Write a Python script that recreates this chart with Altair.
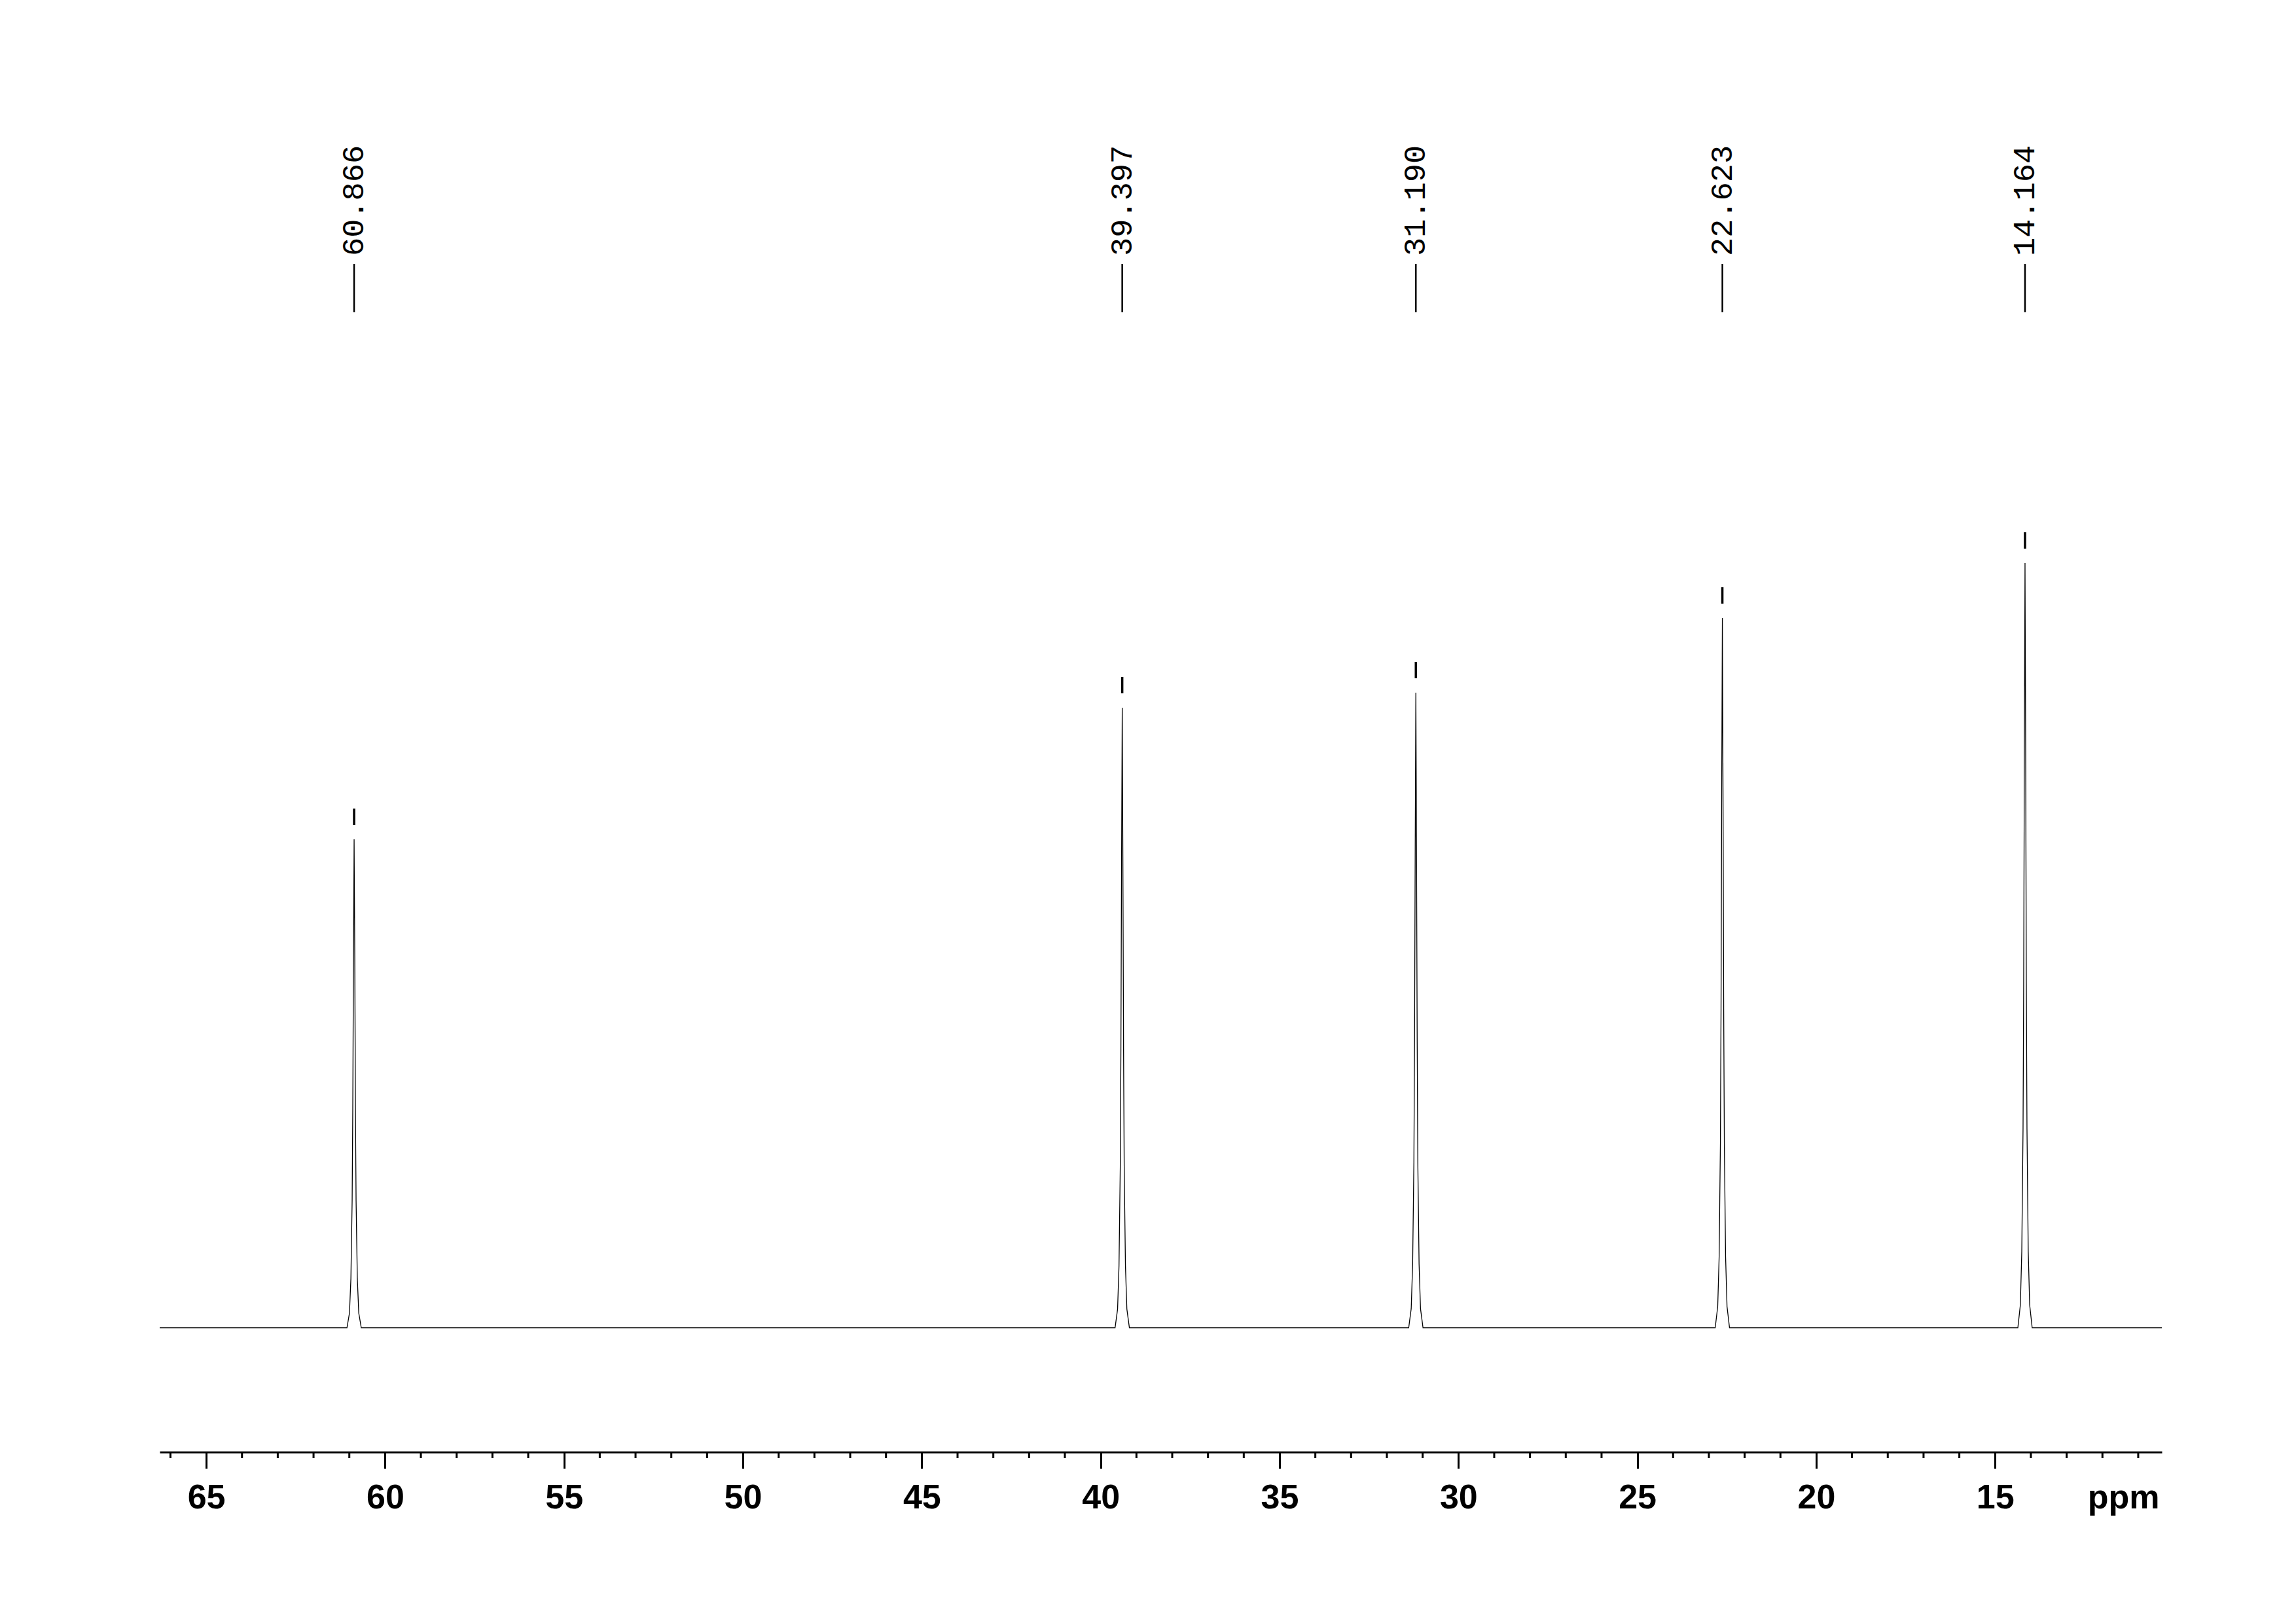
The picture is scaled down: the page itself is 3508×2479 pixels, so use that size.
import altair as alt
import pandas as pd

# ---- data ----
PEAK_PPM = [60.866, 39.397, 31.190, 22.623, 14.164]
PEAK_LABELS = ["60.866", "39.397", "31.190", "22.623", "14.164"]
PEAK_HEIGHT = [746, 947, 970, 1084, 1168]          # arbitrary intensity units

LINE_OFFSET_PPM = [-0.20, -0.13, -0.09, -0.055, -0.037, -0.018, 0.0,
                   0.018, 0.037, 0.055, 0.09, 0.13, 0.20]
LINE_FRACTION = [0.0, 0.03, 0.10, 0.26, 0.45, 0.76, 1.0,
                 0.76, 0.45, 0.26, 0.10, 0.03, 0.0]

PPM_RANGE = [10.34, 66.30]
MAJOR_TICKS = [65, 60, 55, 50, 45, 40, 35, 30, 25, 20, 15]
MINOR_TICKS = [v for v in range(11, 67) if v % 5 != 0]

# ---- tables ----
rows = [{"ppm": PPM_RANGE[1], "intensity": 0.0}, {"ppm": PPM_RANGE[0], "intensity": 0.0}]
for p, h in zip(PEAK_PPM, PEAK_HEIGHT):
    for o, f in zip(LINE_OFFSET_PPM, LINE_FRACTION):
        rows.append({"ppm": p + o, "intensity": h * f})
spec = pd.DataFrame(rows).sort_values("ppm", ascending=False)

peaks = pd.DataFrame({"ppm": PEAK_PPM, "label": PEAK_LABELS, "height": PEAK_HEIGHT})
minor = pd.DataFrame({"ppm": MINOR_TICKS})

W, H = 3059, 2018
AXIS_FONT = "Liberation Sans"
LABEL_FONT = "Liberation Mono"


def x_enc():
    return alt.X(
        "ppm:Q",
        scale=alt.Scale(domain=PPM_RANGE, reverse=True, nice=False, zero=False),
        axis=alt.Axis(
            values=MAJOR_TICKS, format="d", grid=False,
            tickSize=25, tickWidth=3, tickColor="black",
            domainWidth=3, domainColor="black",
            labelFont=AXIS_FONT, labelFontSize=52, labelFontWeight="bold",
            labelColor="black", labelPadding=19, labelFlush=False, labelOverlap=False,
            title="ppm", titleFont=AXIS_FONT, titleFontSize=52, titleFontWeight="bold",
            titleColor="black", titleX=3055, titleY=85, titleAlign="right",
            titleBaseline="alphabetic",
        ),
    )


y_scale = alt.Scale(domain=[-190, 1828], nice=False, zero=False)

line = alt.Chart(spec).mark_line(color="black", strokeWidth=1.3, interpolate="linear").encode(
    x=x_enc(),
    y=alt.Y("intensity:Q", scale=y_scale, axis=None),
    order="ppm:Q",
)

markers = alt.Chart(peaks).mark_rule(color="black", strokeWidth=3.5, yOffset=-47, y2Offset=-22).encode(
    x=x_enc(),
    y=alt.Y("height:Q", scale=y_scale, axis=None),
    y2="height:Q",
)

label_lines = alt.Chart(peaks).mark_rule(color="black", strokeWidth=2.5).encode(
    x=x_enc(),
    y=alt.value(203),
    y2=alt.value(277),
)

label_text = alt.Chart(peaks).mark_text(
    angle=270, align="left", baseline="middle",
    font=LABEL_FONT, fontSize=47, color="black",
).encode(
    x=x_enc(),
    y=alt.value(191),
    text="label:N",
)

minor_ticks = alt.Chart(minor).mark_rule(color="black", strokeWidth=3).encode(
    x=x_enc(),
    y=alt.value(H),
    y2=alt.value(H + 9),
)

chart = alt.layer(line, markers, label_lines, label_text, minor_ticks).properties(
    width=W, height=H,
    background="white",
    padding={"left": 233, "top": 192, "right": 40, "bottom": 40},
).configure_view(stroke=None, strokeWidth=0)

chart.save("out.html", embed_options={"renderer": "svg", "actions": False})
